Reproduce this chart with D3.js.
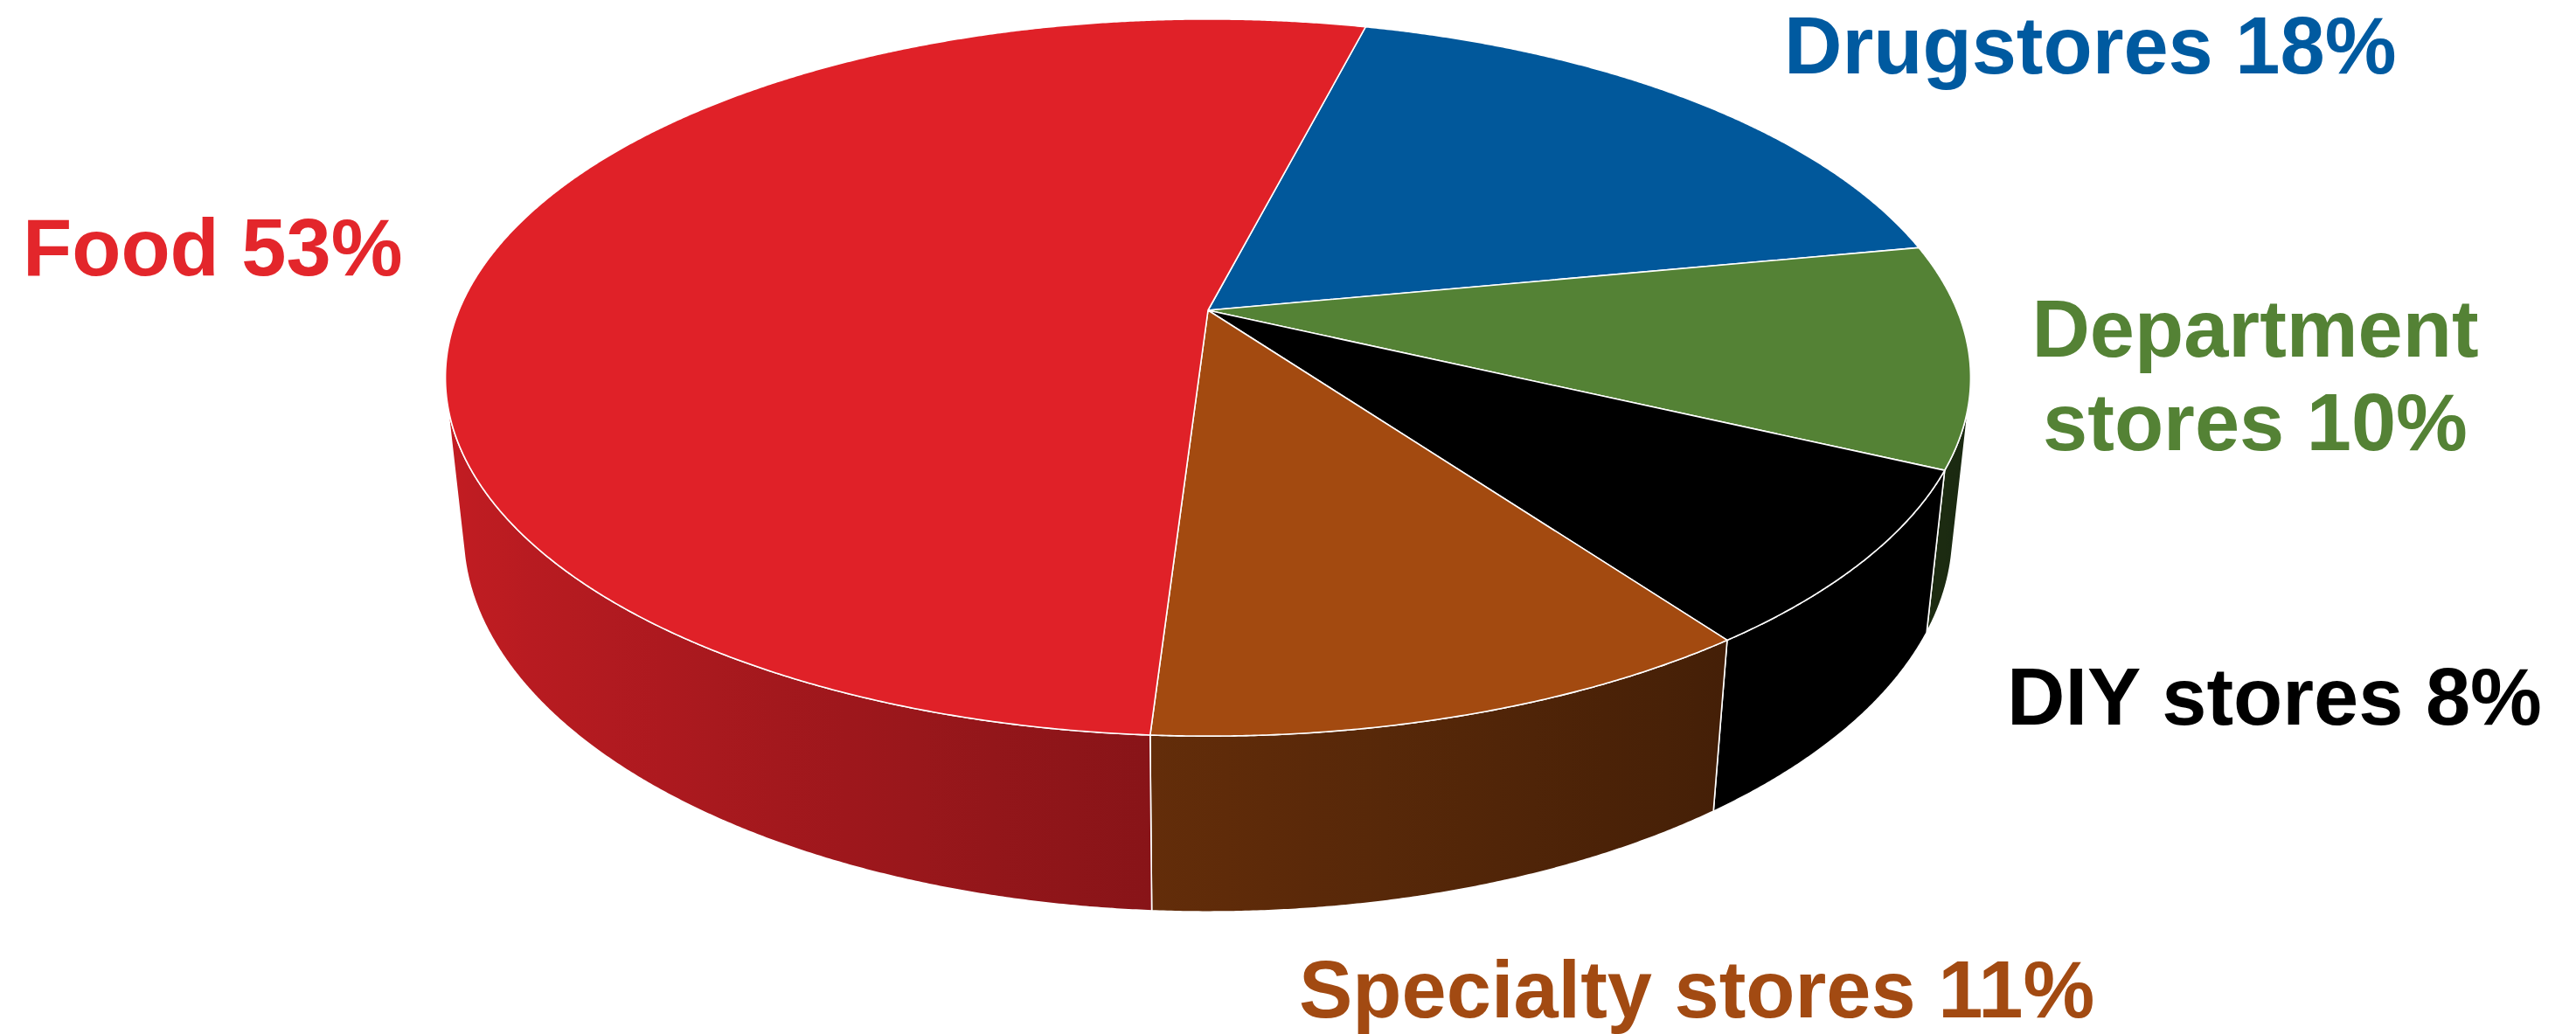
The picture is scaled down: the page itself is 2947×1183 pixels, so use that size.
<!DOCTYPE html>
<html>
<head>
<meta charset="utf-8">
<script src="https://cdn.jsdelivr.net/npm/d3@7"></script>
<style>
  html, body { margin: 0; padding: 0; background: #ffffff; }
  svg { display: block; }
</style>
</head>
<body>
<svg id="chart" width="2947" height="1183"></svg>
<script>
// Sales share by retail channel, clockwise from the first slice
const categories = ["Drugstores", "Department stores", "DIY stores", "Specialty stores", "Food"];
const shares = [18, 10, 8, 11, 53];

// Colours
const sliceColors = ["#01589b", "#548235", "#000000", "#a34a10", "#e02128"];
const labelColors = ["#005aa0", "#548235", "#000000", "#a24a12", "#e3262b"];

// Perspective set-up of the 3D disc (unit radius, seen from above at a tilt)
const cam = { cx: 1382, cy: 355, f: 4048, L: 4.724, tilt: 27.5 * Math.PI / 180, depth: 0.2357 };
const firstSliceDeg = 14.4;

// Label placement (wrapAfter: number of words on the first line)
const labelLayout = [
  { x: 2041, y: 84,   anchor: "start" },
  { x: 2580, y: 408,  anchor: "middle", wrapAfter: 1, lineGap: 107 },
  { x: 2296, y: 829,  anchor: "start" },
  { x: 1486, y: 1164, anchor: "start" },
  { x: 26,   y: 315,  anchor: "start" }
];

const svg = d3.select("#chart");
const sinT = Math.sin(cam.tilt), cosT = Math.cos(cam.tilt);

// Project a point of the disc (angle, radius, height) onto the screen
function project(theta, r, z) {
  const x = r * Math.sin(theta), y = r * Math.cos(theta);
  const d = cam.L + y * cosT - z * sinT;
  return [cam.cx + cam.f * x / d, cam.cy - cam.f * (y * sinT + z * cosT) / d];
}

const data = categories.map((name, i) => ({ name, value: shares[i], i }));
const start = firstSliceDeg * Math.PI / 180;
const arcs = d3.pie().sort(null).value(d => d.value)
  .startAngle(start).endAngle(start + 2 * Math.PI)(data);

const color = d3.scaleOrdinal().domain(categories).range(sliceColors);
const line = d3.line();
const step = Math.PI / 720;

function samples(a0, a1) {
  const n = Math.max(2, Math.ceil((a1 - a0) / step));
  return d3.range(n + 1).map(k => a0 + (a1 - a0) * k / n);
}

// Directional light on the rim: brighter on the left
const light = theta => 0.59 - 0.29 * Math.sin(theta);
function shade(c, k) {
  const rgb = d3.rgb(c);
  return d3.rgb(rgb.r * k, rgb.g * k, rgb.b * k).formatHex();
}

// Only the part of the rim facing the viewer is drawn
const visLo = Math.acos(-1 / (cam.L * cosT));
const visHi = 2 * Math.PI - visLo;

const defs = svg.append("defs");
const sides = svg.append("g").attr("class", "sides");
const tops = svg.append("g").attr("class", "tops");

arcs.forEach((a, idx) => {
  const a0 = Math.max(a.startAngle, visLo);
  const a1 = Math.min(a.endAngle, visHi);
  if (a1 <= a0) return;
  const angs = samples(a0, a1);
  const topPts = angs.map(t => project(t, 1, 0));
  const botPts = angs.map(t => project(t, 1, -cam.depth)).reverse();
  const base = color(a.data.name);

  const xs = topPts.map(p => p[0]);
  const xMin = d3.min(xs), xMax = d3.max(xs);
  const gid = "side-grad-" + idx;
  const stops = angs.filter((t, k) => k % 20 === 0 || k === angs.length - 1)
    .map(t => ({ off: (project(t, 1, 0)[0] - xMin) / (xMax - xMin || 1), col: shade(base, light(t)) }))
    .sort((p, q) => p.off - q.off);
  const grad = defs.append("linearGradient").attr("id", gid)
    .attr("gradientUnits", "userSpaceOnUse")
    .attr("x1", xMin).attr("x2", xMax).attr("y1", 0).attr("y2", 0);
  grad.selectAll("stop").data(stops).join("stop")
    .attr("offset", d => d.off).attr("stop-color", d => d.col);

  sides.append("path")
    .attr("d", line(topPts.concat(botPts)) + "Z")
    .attr("fill", `url(#${gid})`)
    .attr("stroke", "#ffffff")
    .attr("stroke-width", 1.6)
    .attr("stroke-linejoin", "round");
});

arcs.forEach(a => {
  const pts = [[cam.cx, cam.cy]].concat(samples(a.startAngle, a.endAngle).map(t => project(t, 1, 0)));
  tops.append("path")
    .attr("d", line(pts) + "Z")
    .attr("fill", color(a.data.name))
    .attr("stroke", "#ffffff")
    .attr("stroke-width", 1.6)
    .attr("stroke-linejoin", "round");
});

// Category labels
const labels = svg.append("g").attr("class", "labels")
  .attr("font-family", "'Liberation Sans', Arial, Helvetica, sans-serif")
  .attr("font-weight", "bold")
  .attr("font-size", 92);

data.forEach((d, i) => {
  const pos = labelLayout[i];
  const words = `${d.name} ${d.value}%`.split(" ");
  const lines = pos.wrapAfter
    ? [words.slice(0, pos.wrapAfter).join(" "), words.slice(pos.wrapAfter).join(" ")]
    : [words.join(" ")];
  const t = labels.append("text")
    .attr("x", pos.x).attr("y", pos.y)
    .attr("text-anchor", pos.anchor)
    .attr("fill", labelColors[i]);
  lines.forEach((ln, k) => {
    t.append("tspan").attr("x", pos.x).attr("y", pos.y + k * (pos.lineGap || 0)).text(ln);
  });
});
</script>
</body>
</html>
